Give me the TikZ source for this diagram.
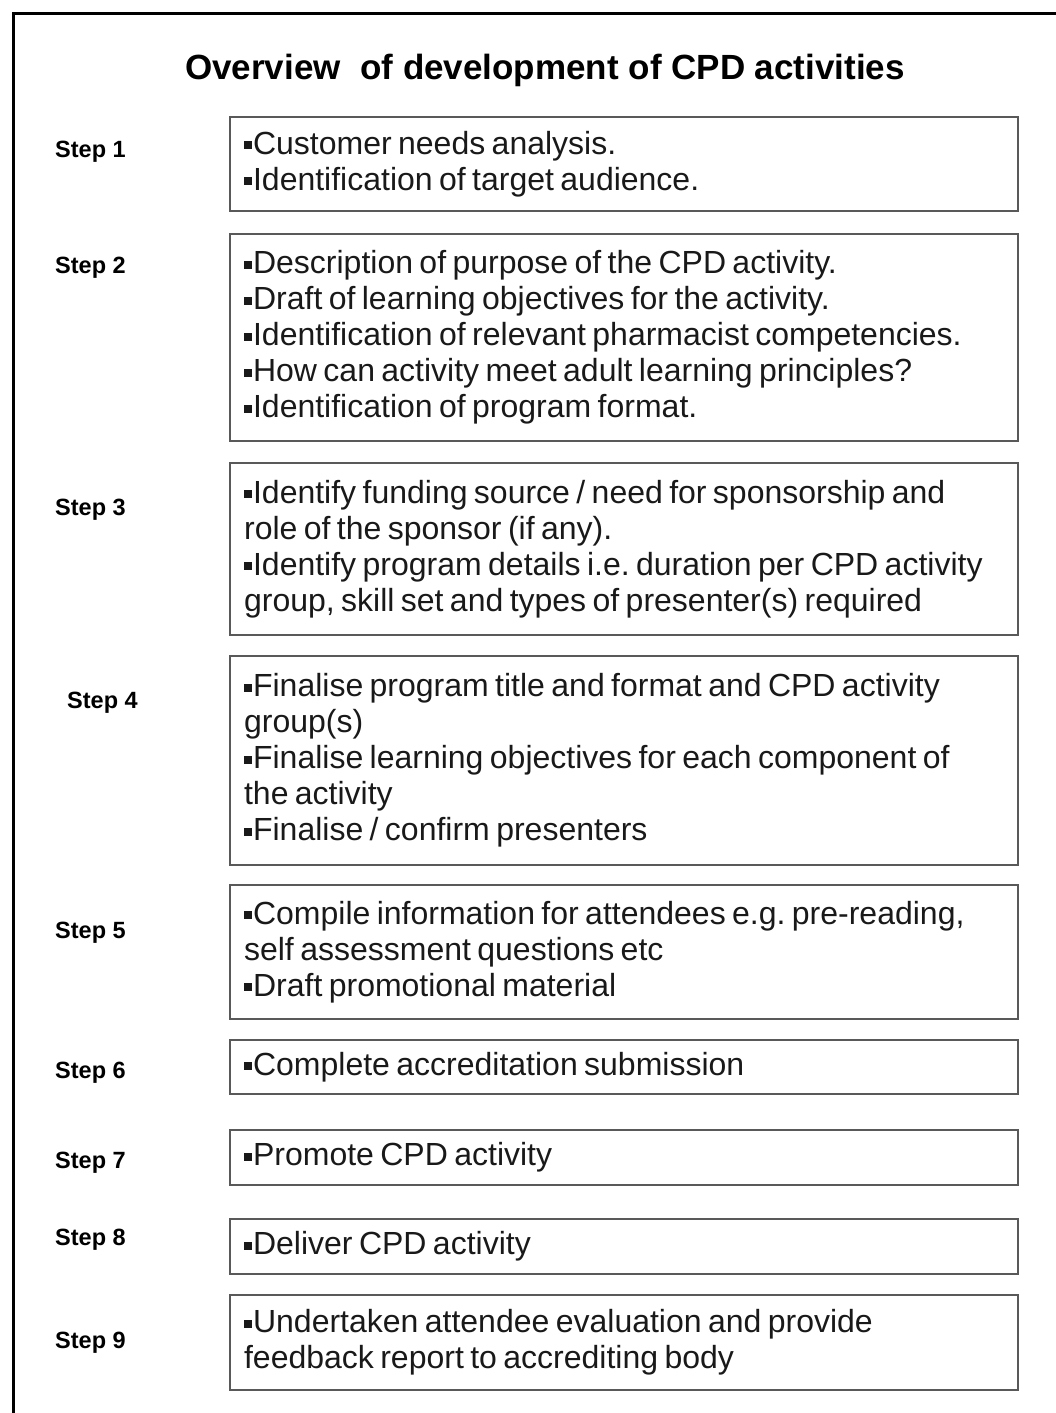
\documentclass[tikz,border=0pt]{standalone}
\usepackage{fontspec}
\setmainfont{Liberation Sans}
\frenchspacing
\newcommand\bul{\rule[0.16em]{0.25em}{0.25em}\kern0.03em}
\newcommand\tightsp{\spaceskip=0.2em plus 0.05em\relax}
\begin{document}
\begin{tikzpicture}[x=1pt,y=-1pt,
  stepbox/.style={draw=black!65, line width=2.2pt, anchor=north west,
    minimum width=788pt, text width=760pt, align=left, inner xsep=14pt,
    inner ysep=0pt, font=\fontsize{32}{36}\selectfont, text=black!90,
    execute at begin node=\tightsp},
  steplabel/.style={anchor=west, inner sep=0pt, font=\fontsize{23.5}{26}\selectfont\bfseries},
  frame/.style={line width=3pt, black}]
\useasboundingbox (0,0) rectangle (1056,1413);
\coordinate (fa) at (1056,14);
\coordinate (fb) at (13,14);
\coordinate (fc) at (13,1413);
\draw[frame] (fa) -- (fb) -- (fc);
\node[font=\fontsize{35}{38}\selectfont\bfseries] (title) at (545,70) {Overview\ \ of development of CPD activities};

\node[stepbox, minimum height=94pt] (b1) at (229,116)
 {\bul Customer needs analysis.\\ \bul Identification of target audience.};
\node[stepbox, minimum height=207pt] (b2) at (229,233)
 {\bul Description of purpose of the CPD activity.\\
  \bul Draft of learning objectives for the activity.\\
  \bul Identification of relevant pharmacist competencies.\\
  \bul How can activity meet adult learning principles?\\
  \bul Identification of program format.};
\node[stepbox, minimum height=172pt] (b3) at (229,462)
 {\bul Identify funding source / need for sponsorship and\\
  role of the sponsor (if any).\\
  \bul Identify program details i.e. duration per CPD activity\\
  group, skill set and types of presenter(s) required};
\node[stepbox, minimum height=209pt] (b4) at (229,655)
 {\bul Finalise program title and format and CPD activity\\
  group(s)\\
  \bul Finalise learning objectives for each component of\\
  the activity\\
  \bul Finalise / confirm presenters};
\node[stepbox, minimum height=134pt] (b5) at (229,884)
 {\bul Compile information for attendees e.g. pre-reading,\\
  self assessment questions etc\\
  \bul Draft promotional material};
\node[stepbox, minimum height=54pt] (b6) at (229,1039)
 {\bul Complete accreditation submission};
\node[stepbox, minimum height=55pt] (b7) at (229,1129)
 {\bul Promote CPD activity};
\node[stepbox, minimum height=55pt] (b8) at (229,1218)
 {\bul Deliver CPD activity};
\node[stepbox, minimum height=95pt] (b9) at (229,1294)
 {\bul Undertaken attendee evaluation and provide\\
  feedback report to accrediting body};

\node[steplabel] (s1) at (55,152) {Step 1};
\node[steplabel] (s2) at (55,268) {Step 2};
\node[steplabel] (s3) at (55,510) {Step 3};
\node[steplabel] (s4) at (67,703) {Step 4};
\node[steplabel] (s5) at (55,933) {Step 5};
\node[steplabel] (s6) at (55,1073) {Step 6};
\node[steplabel] (s7) at (55,1163) {Step 7};
\node[steplabel] (s8) at (55,1240) {Step 8};
\node[steplabel] (s9) at (55,1343) {Step 9};
\end{tikzpicture}
\end{document}
